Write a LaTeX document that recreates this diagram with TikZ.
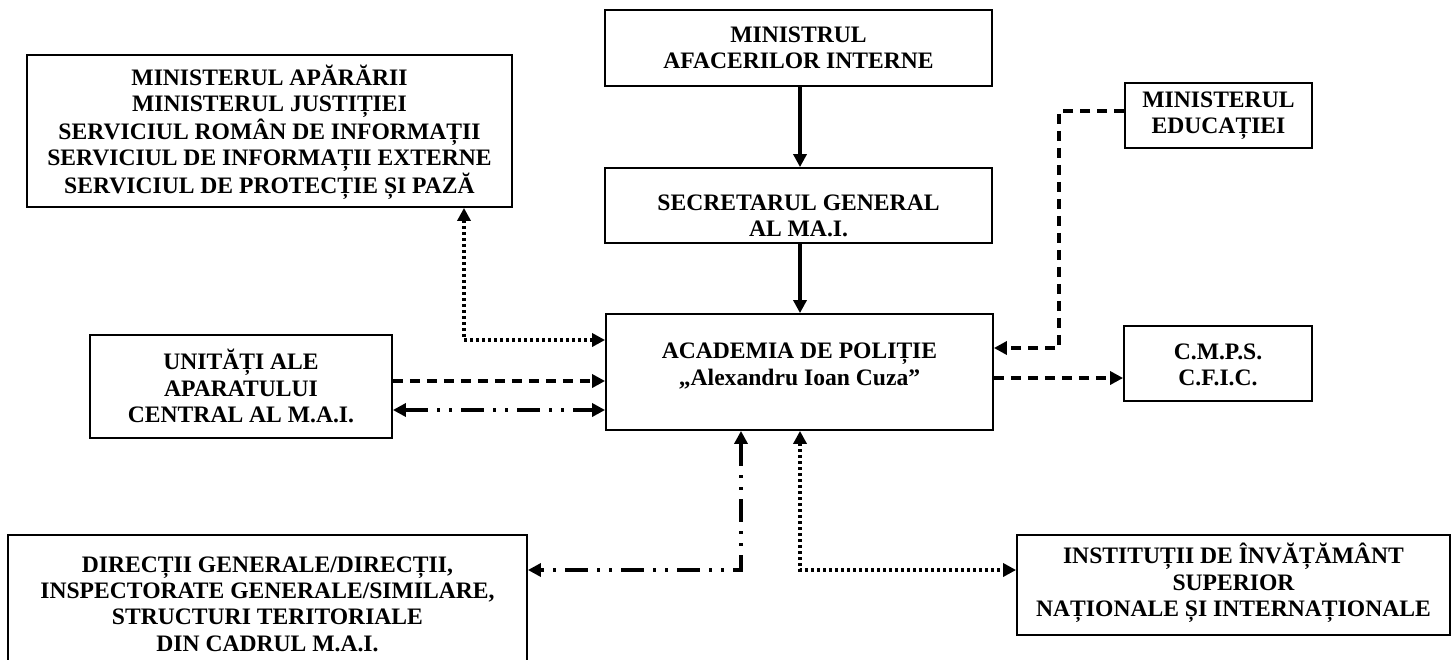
\documentclass[tikz,border=0pt]{standalone}
\usepackage{fontspec}
\setmainfont{Liberation Serif}
\usetikzlibrary{arrows.meta}
\tikzset{
  box/.style={draw, line width=1.8pt, minimum width=#1, inner sep=0pt},
  txt/.style={align=center, font=\fontsize{23.6}{26.3}\selectfont\bfseries, inner sep=0pt},
  conn/.style={line width=3.4pt},
  tipend/.style={-{Triangle[length=13pt,width=13pt]}},
  tipboth/.style={{Triangle[length=13pt,width=13pt]}-{Triangle[length=13pt,width=13pt]}},
  solidline/.style={conn},
  dashline/.style={conn, dash pattern=on 10pt off 7pt},
  dotline/.style={conn, dash pattern=on 3pt off 3pt},
  dddline/.style={conn, dash pattern=on 23pt off 9pt on 3pt off 9pt on 3pt off 9pt},
}
\begin{document}
\begin{tikzpicture}[x=1pt,y=-1pt]
\useasboundingbox (0,0) rectangle (1455,659);
\clip (0,0) rectangle (1455,659);
% boxes
\node[box=485pt, minimum height=152pt] (tl) at (269.5,131) {};
\node[txt] (tlt) at (269.5,132) {MINISTERUL APĂRĂRII\\MINISTERUL JUSTIȚIEI\\SERVICIUL ROMÂN DE INFORMAȚII\\SERVICIUL DE INFORMAȚII EXTERNE\\SERVICIUL DE PROTECȚIE ȘI PAZĂ};
\node[box=387pt, minimum height=76pt] (mai) at (798.5,48) {};
\node[txt] (mait) at (798.5,48) {MINISTRUL\\AFACERILOR INTERNE};
\node[box=387pt, minimum height=75pt] (sec) at (798.5,205.5) {};
\node[txt] (sect) at (798.5,216) {SECRETARUL GENERAL\\AL MA.I.};
\node[box=187pt, minimum height=65pt] (edu) at (1218.5,115.5) {};
\node[txt] (edut) at (1218.5,116) {MINISTERUL\\EDUCAȚIEI};
\node[box=387pt, minimum height=116pt] (acad) at (799.5,372) {};
\node[txt] (acadt) at (799.5,366) {ACADEMIA DE POLIȚIE\\[1pt]„Alexandru Ioan Cuza”};
\node[box=302pt, minimum height=103pt] (unit) at (241,386.5) {};
\node[txt] (unitt) at (241,386) {UNITĂȚI ALE\\APARATULUI\\CENTRAL AL M.A.I.};
\node[box=188pt, minimum height=75pt] (cmps) at (1218,363.5) {};
\node[txt] (cmpst) at (1218,365) {C.M.P.S.\\C.F.I.C.};
\node[box=519pt, minimum height=140pt] (dir) at (267.5,605) {};
\node[txt] (dirt) at (267.5,604) {DIRECȚII GENERALE/DIRECȚII,\\INSPECTORATE GENERALE/SIMILARE,\\STRUCTURI TERITORIALE\\DIN CADRUL M.A.I.};
\node[box=433pt, minimum height=100pt] (inst) at (1233.5,585) {};
\node[txt] (instt) at (1233.5,583) {INSTITUȚII DE ÎNVĂȚĂMÂNT\\SUPERIOR\\NAȚIONALE ȘI INTERNAȚIONALE};
% helper coordinates
\coordinate (c0) at (800,0);
\coordinate (c1) at (464,340);
\coordinate (c2) at (0,381);
\coordinate (c3) at (0,410);
\coordinate (c4a) at (1059,111);
\coordinate (c4b) at (1059,348);
\coordinate (c5) at (0,378);
\coordinate (c6) at (741,570);
\coordinate (c7) at (800,570);
% connectors
\draw[solidline, tipend] (mai.south -| c0) -- (sec.north -| c0);
\draw[solidline, tipend] (sec.south -| c0) -- (acad.north -| c0);
\draw[dotline, tipboth] (tl.south -| c1) |- (acad.west |- c1);
\draw[dashline, tipend] (unit.east |- c2) -- (acad.west |- c2);
\draw[dddline, tipboth] (unit.east |- c3) -- (acad.west |- c3);
\draw[dashline, tipend] (edu.west |- c4a) -- (c4a) -- (c4b) -- (acad.east |- c4b);
\draw[dashline, tipend] (acad.east |- c5) -- (cmps.west |- c5);
\draw[dddline, tipboth] (acad.south -| c6) |- (dir.east |- c6);
\draw[dotline, tipboth] (acad.south -| c7) |- (inst.west |- c7);
\end{tikzpicture}
\end{document}
